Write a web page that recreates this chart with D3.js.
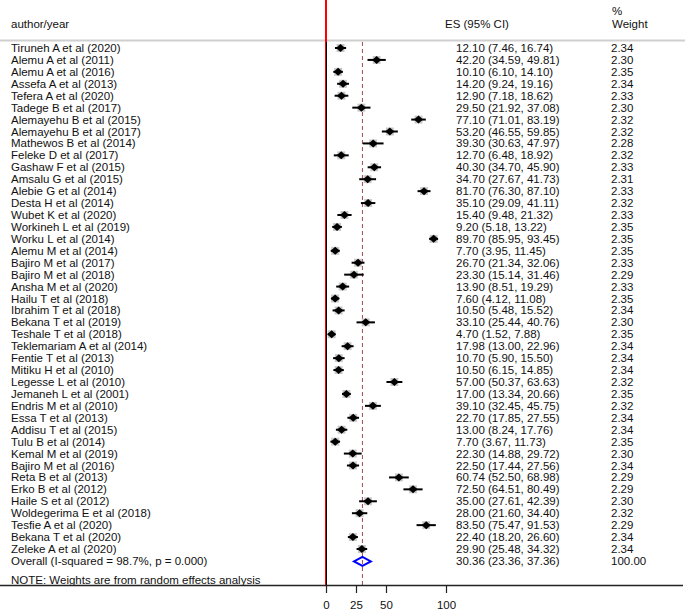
<!DOCTYPE html>
<html><head><meta charset="utf-8">
<script src="https://cdn.jsdelivr.net/npm/d3@7"></script>
<style>body{margin:0;background:#fff}svg{display:block}text{font-family:"Liberation Sans",Arial,sans-serif;fill:#111}</style>
</head><body>
<script>
const studies = ["Tiruneh A et al (2020)","Alemu A et al (2011)","Alemu A et al (2016)","Assefa  A et al (2013)","Tefera A et al (2020)","Tadege B et al (2017)","Alemayehu B et al (2015)","Alemayehu B et al (2017)","Mathewos B et al (2014)","Feleke D et al (2017)","Gashaw F et al (2015)","Amsalu G et al (2015)","Alebie G et al (2014)","Desta H et al (2014)","Wubet K et al (2020)","Workineh L et al (2019)","Worku L et al (2014)","Alemu M et al (2014)","Bajiro M et al (2017)","Bajiro M et al (2018)","Ansha M et al (2020)","Hailu T et al (2018)","Ibrahim T et al (2018)","Bekana T et al (2019)","Teshale T et al (2018)","Teklemariam A et al (2014)","Fentie T et al (2013)","Mitiku H et al (2010)","Legesse L et al (2010)","Jemaneh L et al (2001)","Endris M et al (2010)","Essa T et al (2013)","Addisu T et al (2015)","Tulu B et al (2014)","Kemal M et al (2019)","Bajiro M et al (2016)","Reta B et al (2013)","Erko B et al (2012)","Haile S et al (2012)","Woldegerima E et al (2018)","Tesfie A et al (2020)","Bekana T et al (2020)","Zeleke A et al (2020)"];
const es = [12.10,42.20,10.10,14.20,12.90,29.50,77.10,53.20,39.30,12.70,40.30,34.70,81.70,35.10,15.40,9.20,89.70,7.70,26.70,23.30,13.90,7.60,10.50,33.10,4.70,17.98,10.70,10.50,57.00,17.00,39.10,22.70,13.00,7.70,22.30,22.50,60.74,72.50,35.00,28.00,83.50,22.40,29.90];
const lower = [7.46,34.59,6.10,9.24,7.18,21.92,71.01,46.55,30.63,6.48,34.70,27.67,76.30,29.09,9.48,5.18,85.95,3.95,21.34,15.14,8.51,4.12,5.48,25.44,1.52,13.00,5.90,6.15,50.37,13.34,32.45,17.85,8.24,3.67,14.88,17.44,52.50,64.51,27.61,21.60,75.47,18.20,25.48];
const upper = [16.74,49.81,14.10,19.16,18.62,37.08,83.19,59.85,47.97,18.92,45.90,41.73,87.10,41.11,21.32,13.22,93.45,11.45,32.06,31.46,19.29,11.08,15.52,40.76,7.88,22.96,15.50,14.85,63.63,20.66,45.75,27.55,17.76,11.73,29.72,27.56,68.98,80.49,42.39,34.40,91.53,26.60,34.32];
const weight = [2.34,2.30,2.35,2.34,2.33,2.30,2.32,2.32,2.28,2.32,2.33,2.31,2.33,2.32,2.33,2.35,2.35,2.35,2.33,2.29,2.33,2.35,2.34,2.30,2.35,2.34,2.34,2.34,2.32,2.35,2.32,2.34,2.34,2.35,2.30,2.34,2.29,2.29,2.30,2.32,2.29,2.34,2.34];
const overallLabel = "Overall  (I-squared = 98.7%, p = 0.000)";
const overall = {es:30.36, lower:23.36, upper:37.36, weight:100.00};
const xTicks = [0,25,50,100];
const note = "NOTE: Weights are from random effects analysis";

const W=685,H=611;
const svg=d3.select("body").append("svg").attr("width",W).attr("height",H);
const x=d3.scaleLinear().domain([0,100]).range([326,446]);
const y=d3.scaleLinear().domain([0,studies.length-1]).range([48,549]);
const fmt=d3.format(".2f");
const fs=11.5;

// header
svg.append("text").attr("x",11).attr("y",28).attr("font-size",fs).text("author/year");
svg.append("text").attr("x",445).attr("y",28).attr("font-size",fs).text("ES (95% CI)");
svg.append("text").attr("x",612).attr("y",15).attr("font-size",fs).text("%");
svg.append("text").attr("x",612).attr("y",28).attr("font-size",fs).text("Weight");
svg.append("line").attr("x1",0).attr("x2",W).attr("y1",40.5).attr("y2",40.5).attr("stroke","#cfcfcf").attr("stroke-width",2);

// null line
svg.append("line").attr("x1",x(0)).attr("x2",x(0)).attr("y1",0).attr("y2",585).attr("stroke","#ff0000").attr("stroke-width",2);
svg.append("line").attr("x1",x(0)+0.5).attr("x2",x(0)+0.5).attr("y1",42).attr("y2",585).attr("stroke","#000").attr("stroke-width",1);

// overall dashed line
svg.append("line").attr("x1",x(overall.es)).attr("x2",x(overall.es)).attr("y1",42).attr("y2",585)
  .attr("stroke","#a8474f").attr("stroke-width",1).attr("stroke-dasharray","4,3");

const rows=studies.map((s,i)=>({s,es:es[i],lo:lower[i],hi:upper[i],w:weight[i],i}));
const g=svg.append("g");
// weight boxes
g.selectAll("rect.box").data(rows).join("rect").attr("class","box")
  .attr("x",d=>x(d.es)-Math.sqrt(d.w)*2.6).attr("y",d=>y(d.i)-Math.sqrt(d.w)*2.6)
  .attr("width",d=>Math.sqrt(d.w)*5.2).attr("height",d=>Math.sqrt(d.w)*5.2).attr("fill","#c8c8c8");
// CI
g.selectAll("line.ci").data(rows).join("line").attr("class","ci")
  .attr("x1",d=>x(d.lo)).attr("x2",d=>x(d.hi)).attr("y1",d=>y(d.i)).attr("y2",d=>y(d.i))
  .attr("stroke","#000").attr("stroke-width",2);
// point diamonds
g.selectAll("path.pt").data(rows).join("path").attr("class","pt")
  .attr("d",d=>{const cx=x(d.es),cy=y(d.i);return `M${cx-4.5},${cy}L${cx},${cy-4}L${cx+4.5},${cy}L${cx},${cy+4}Z`;})
  .attr("fill","#000");
// texts
g.selectAll("text.lab").data(rows).join("text").attr("class","lab").attr("x",11).attr("y",d=>y(d.i)+4).attr("font-size",fs).text(d=>d.s);
g.selectAll("text.es").data(rows).join("text").attr("class","es").attr("x",456).attr("y",d=>y(d.i)+4).attr("font-size",fs)
  .text(d=>`${fmt(d.es)} (${fmt(d.lo)}, ${fmt(d.hi)})`);
g.selectAll("text.w").data(rows).join("text").attr("class","w").attr("x",611).attr("y",d=>y(d.i)+4).attr("font-size",fs).text(d=>fmt(d.w));

// overall
const oy=y(studies.length)+0.5;
svg.append("path").attr("d",`M${x(overall.lower)},${oy}L${x(overall.es)},${oy-4.5}L${x(overall.upper)},${oy}L${x(overall.es)},${oy+4.5}Z`)
  .attr("fill","none").attr("stroke","#0000ff").attr("stroke-width",2);
svg.append("text").attr("x",11).attr("y",oy+4).attr("font-size",fs).text(overallLabel);
svg.append("text").attr("x",456).attr("y",oy+4).attr("font-size",fs).text(`${fmt(overall.es)} (${fmt(overall.lower)}, ${fmt(overall.upper)})`);
svg.append("text").attr("x",611).attr("y",oy+4).attr("font-size",fs).text(fmt(overall.weight));
svg.append("text").attr("x",11).attr("y",584).attr("font-size",fs).text(note);

// axis
svg.append("line").attr("x1",0).attr("x2",683).attr("y1",585.5).attr("y2",585.5).attr("stroke","#222").attr("stroke-width",1.5);
const ax=svg.append("g").attr("transform","translate(0,585)")
  .call(d3.axisBottom(x).tickValues(xTicks).tickSize(8).tickPadding(8).tickFormat(d3.format("d")));
ax.select(".domain").remove();
ax.selectAll(".tick line").attr("stroke","#222").attr("stroke-width",1.2);
ax.selectAll(".tick text").attr("font-size",fs).attr("font-family","Liberation Sans, Arial, sans-serif").attr("fill","#111");
</script>
</body></html>
